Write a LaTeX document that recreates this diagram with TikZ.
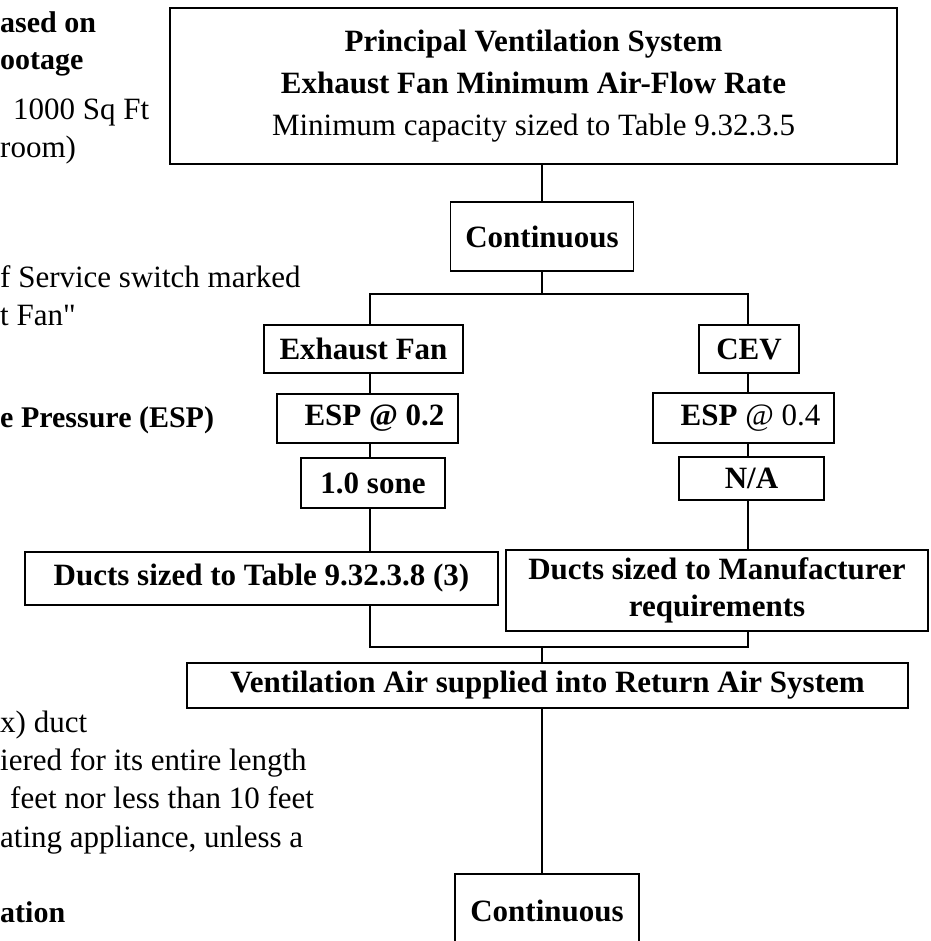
\documentclass[tikz,border=0pt]{standalone}
\usepackage{fontspec}
\setmainfont{Liberation Serif}[Ligatures=TeXOff]
\begin{document}
\begin{tikzpicture}[x=1pt,y=-1pt,
  box/.style={draw, line width=1.3pt, inner sep=0pt, align=center,
    font=\fontsize{31}{37}\selectfont\bfseries},
  conn/.style={line width=1.1pt},
  side/.style={anchor=base west, inner sep=0pt, font=\fontsize{31}{36}\selectfont},
  sideb/.style={side, font=\fontsize{30}{36}\selectfont\bfseries}]
\useasboundingbox (0,0) rectangle (930,941);
\clip (0,0) rectangle (930,941);

% left-hand (cut-off) text
\node[sideb] (l1) at (0,33) {ased on};
\node[sideb] (l2) at (0,70) {ootage};
\node[side] (l3) at (13,120) {1000 Sq Ft};
\node[side] (l4) at (0,158) {room)};
\node[side] (l5) at (0,287) {f Service switch marked};
\node[side] (l6) at (0,325) {t Fan"};
\node[sideb] (l7) at (0,427) {e Pressure (ESP)};
\node[side] (l8) at (0,732) {x) duct};
\node[side] (l9) at (0,770) {iered for its entire length};
\node[side] (l10) at (10,808) {feet nor less than 10 feet};
\node[side] (l11) at (0,847) {ating appliance, unless a};
\node[sideb] (l12) at (0,922) {ation};

% flowchart boxes
\node[box, minimum width=727pt, minimum height=156pt,
  font=\fontsize{31}{42}\selectfont] (top) at (533.5,86)
  {\textbf{Principal Ventilation System}\\
   \textbf{Exhaust Fan Minimum Air-Flow Rate}\\
   Minimum capacity sized to Table 9.32.3.5};
\node[box, minimum width=183pt, minimum height=69pt] (cont1) at (542,236.5) {Continuous};
\node[box, minimum width=199pt, minimum height=48pt] (exfan) at (363.5,349) {Exhaust Fan};
\node[box, minimum width=100pt, minimum height=48pt] (cev) at (749,349) {CEV};
\node[box, minimum width=181pt, minimum height=49pt] (esp2) at (367.5,418.5) {\hspace*{14pt}ESP @ 0.2};
\node[box, minimum width=181pt, minimum height=50pt] (esp4) at (743.5,418) {\hspace*{14pt}ESP \mdseries @ 0.4};
\node[box, minimum width=144pt, minimum height=50pt] (sone) at (373,483) {1.0 sone};
\node[box, minimum width=145pt, minimum height=43pt] (na) at (751.5,478.5) {N/A};
\node[box, minimum width=473pt, minimum height=53pt] (ductsL) at (261.5,578.5) {Ducts sized to Table 9.32.3.8 (3)};
\node[box, minimum width=422pt, minimum height=81pt] (ductsR) at (717,590.5) {Ducts sized to Manufacturer\\requirements};
\node[box, minimum width=721pt, minimum height=45pt] (vent) at (547.5,685.5) {Ventilation Air supplied into Return Air System};
\node[box, minimum width=184pt, minimum height=74pt] (cont2) at (547,911) {Continuous};

% junction points
\coordinate (jt) at (542,294);
\coordinate (jl) at (370,294);
\coordinate (jr) at (748,294);
\coordinate (bt) at (542,647);
\coordinate (bl) at (370,647);
\coordinate (br) at (748,647);

% connectors
\draw[conn] (cont1.north) -- (cont1.north |- top.south);
\draw[conn] (cont1.south) -- (jt);
\draw[conn] (jl |- exfan.north) -- (jl) -- (jr) -- (jr |- cev.north);
\draw[conn] (jl |- exfan.south) -- (jl |- esp2.north);
\draw[conn] (jl |- esp2.south) -- (jl |- sone.north);
\draw[conn] (jl |- sone.south) -- (jl |- ductsL.north);
\draw[conn] (jr |- cev.south) -- (jr |- esp4.north);
\draw[conn] (jr |- esp4.south) -- (jr |- na.north);
\draw[conn] (jr |- na.south) -- (jr |- ductsR.north);
\draw[conn] (bl |- ductsL.south) -- (bl) -- (br) -- (br |- ductsR.south);
\draw[conn] (bt) -- (bt |- vent.north);
\draw[conn] (bt |- vent.south) -- (bt |- cont2.north);
\end{tikzpicture}
\end{document}
